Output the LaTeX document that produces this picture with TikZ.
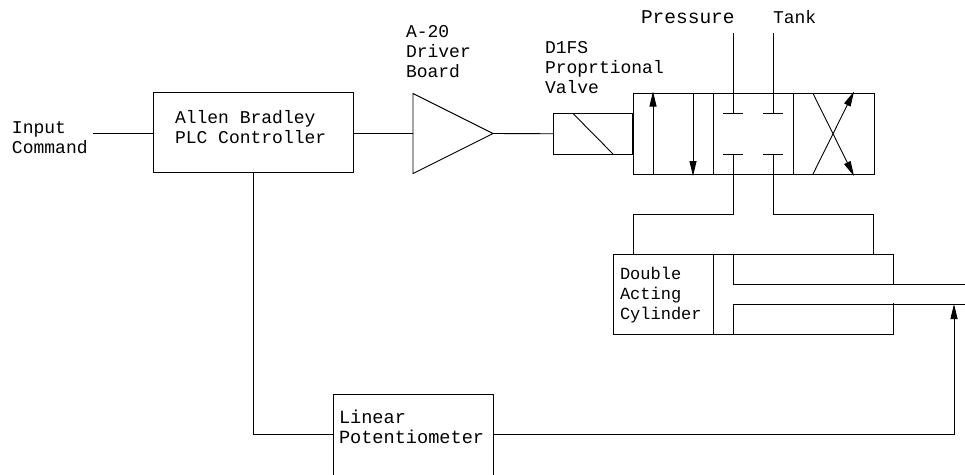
\documentclass[tikz,border=0pt]{standalone}
\usepackage{fontspec}
\setmonofont{Liberation Mono}
\usetikzlibrary{arrows.meta,positioning,shapes.geometric}

\tikzset{
  block/.style={draw,rectangle,inner sep=0pt,outer sep=0pt},
  caption/.style={inner sep=0pt,outer sep=0pt,anchor=base west,align=left,
    font=\ttfamily\fontsize{18}{20}\selectfont},
  flowtip/.style={-{Triangle[length=15pt,width=7pt]}}
}

\begin{document}
\begin{tikzpicture}[x=1pt,y=-1pt,line width=0.9pt]
\useasboundingbox (0,0) rectangle (965,474);

% Main blocks
\node[block,minimum width=200pt,minimum height=80pt] (plc) at (253,132.5) {};
\node[draw,isosceles triangle,isosceles triangle stretches,minimum width=80pt,minimum height=80pt,inner sep=0pt,outer sep=0pt,anchor=apex] (amp) at (493,133.5) {};
\node[block,minimum width=80pt,minimum height=40.5pt] (sol) at (593,133.75) {};
\node[block,minimum width=241pt,minimum height=80.5pt] (valve) at (753.5,133.75) {};
\node[block,minimum width=280.5pt,minimum height=80pt] (cyl) at (753.25,294) {};
\node[block,minimum width=160pt,minimum height=82pt] (pot) at (413,435.5) {};

% Free ends
\coordinate (input) at (93,133.5);
\coordinate (ptop) at (733,33);
\coordinate (ttop) at (773,33);
\coordinate (pin) at (733,113.5);
\coordinate (tin) at (773,113.5);
\coordinate (pout) at (733,154);
\coordinate (tout) at (773,154);
\coordinate (rodhi) at (965,284);
\coordinate (rodlo) at (965,304);
\coordinate (rodtip) at (954,304);
\coordinate (sense) at (253,434.5);

% Signal path
\draw (input) -- (input -| plc.west);
\draw (input -| plc.east) -- (amp.lower side);
\draw (amp.apex) -- (sol.west);
\draw (plc.south) |- (sense -| pot.west);
\draw[flowtip] (sense -| pot.east) -| (rodtip);

% Solenoid
\draw (573,113.5) -- (613,154);
\draw[line width=1.5pt] (sol.north east) -- (sol.south east);

% Valve cells
\draw (713,93.5) -- (713,174);
\draw (793,93.5) -- (793,174);
\draw[flowtip] (653,174) -- (653,91.5);
\draw[flowtip] (693,93.5) -- (693,176);
\draw[flowtip] (813,174) -- (854,91.5);
\draw[flowtip] (813,93.5) -- (854,176);

% Valve ports
\draw (ptop) -- (pin);
\draw (ttop) -- (tin);
\draw (723,113.5) -- (743,113.5);
\draw (763,113.5) -- (783,113.5);
\draw (723,154) -- (743,154);
\draw (763,154) -- (783,154);

% Lines to cylinder
\draw (pout) |- (633,214) -- (633,254);
\draw (tout) |- (873.5,214) -- (873.5,254);

% Piston and rod
\draw (713,254) -- (713,334);
\draw (733,254) -- (733,284) -- (rodhi);
\draw (733,334) -- (733,304) -- (rodlo);
\draw[white,line width=1.6pt] (893.5,284.8) -- (893.5,303.2);

% Labels
\node[caption] (inputlabel) at (12,153) {Input\\Command};
\node[caption] (plclabel) at (175,143) {Allen Bradley\\PLC Controller};
\node[caption] (amplabel) at (406,77) {A-20\\Driver\\Board};
\node[caption] (vallabel) at (545,93) {D1FS\\Proprtional\\Valve};
\node[caption,font=\ttfamily\fontsize{19.5}{20}\selectfont] (plabel) at (641,23) {Pressure};
\node[caption] (tlabel) at (773,23) {Tank};
\node[caption,font=\ttfamily\fontsize{17}{20}\selectfont] (cyllabel) at (620,319) {Double\\Acting\\Cylinder};
\node[caption,font=\ttfamily\fontsize{18.6}{20}\selectfont] (potlabel) at (339,443) {Linear\\Potentiometer};

\end{tikzpicture}
\end{document}
